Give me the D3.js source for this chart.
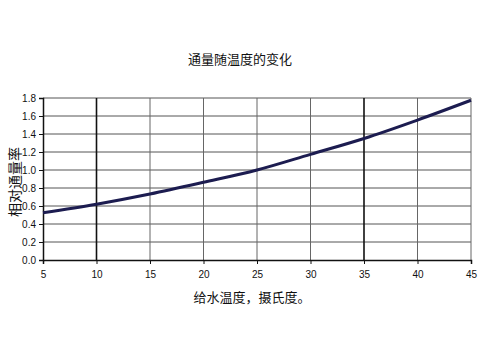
<!DOCTYPE html>
<html><head><meta charset="utf-8">
<script src="https://cdn.jsdelivr.net/npm/d3@7"></script>
<style>body{margin:0;background:#fff}svg{display:block}</style>
</head><body>
<svg id="c" width="500" height="350"></svg>
<script>
const temps = [5, 10, 15, 20, 25, 30, 35, 40, 45];
const flux = [0.525, 0.62, 0.733, 0.863, 1.0, 1.174, 1.35, 1.555, 1.775];
const xTicks = [5, 10, 15, 20, 25, 30, 35, 40, 45];
const yTicks = [0, 0.2, 0.4, 0.6, 0.8, 1.0, 1.2, 1.4, 1.6, 1.8];
const darkX = [10, 35];

const svg = d3.select('#c');
const x = d3.scaleLinear().domain([5, 45]).range([43, 471]);
const y = d3.scaleLinear().domain([0, 1.8]).range([260, 98]);
const font = 'Liberation Sans, Arial, sans-serif';
const cjk = '"Noto Sans CJK SC", sans-serif';

// horizontal grid
svg.append('g').selectAll('line').data(yTicks.slice(1)).join('line')
  .attr('x1', x(5)).attr('x2', x(45)).attr('y1', d => y(d)).attr('y2', d => y(d))
  .attr('stroke', '#555').attr('stroke-width', 1);
// vertical grid
svg.append('g').selectAll('line').data(xTicks.slice(1)).join('line')
  .attr('x1', d => x(d)).attr('x2', d => x(d)).attr('y1', y(0)).attr('y2', y(1.8))
  .attr('stroke', d => darkX.includes(d) ? '#111' : '#666')
  .attr('stroke-width', d => darkX.includes(d) ? 1.6 : 1);

// axes
const xa = svg.append('g').attr('transform', `translate(0,${y(0)})`)
  .call(d3.axisBottom(x).tickValues(xTicks).tickSize(4).tickFormat(d3.format('d')));
const ya = svg.append('g').attr('transform', `translate(${x(5)},0)`)
  .call(d3.axisLeft(y).tickValues(yTicks).tickSize(4).tickFormat(d3.format('.1f')));
[xa, ya].forEach(a => {
  a.select('.domain').attr('stroke', '#111').attr('stroke-width', 1.5);
  a.selectAll('.tick line').attr('stroke', '#111');
  a.selectAll('text').attr('font-family', font).attr('font-size', 10).attr('fill', '#111');
});
xa.selectAll('text').attr('dy', '1.1em');

// line
svg.append('path').datum(temps.map((t, i) => [t, flux[i]]))
  .attr('d', d3.line().x(d => x(d[0])).y(d => y(d[1])).curve(d3.curveMonotoneX))
  .attr('fill', 'none').attr('stroke', '#1c1c50').attr('stroke-width', 3);

// texts
svg.append('text').attr('x', 240).attr('y', 64).attr('text-anchor', 'middle')
  .attr('font-family', cjk).attr('font-size', 13).attr('fill', '#111').text('通量随温度的变化');
svg.append('text').attr('x', 252).attr('y', 302).attr('text-anchor', 'middle')
  .attr('font-family', cjk).attr('font-size', 13).attr('fill', '#111').text('给水温度，摄氏度。');
svg.append('text').attr('transform', 'translate(20,182) rotate(-90)').attr('text-anchor', 'middle')
  .attr('font-family', cjk).attr('font-size', 14).attr('fill', '#111').text('相对通量率');
</script>
</body></html>
